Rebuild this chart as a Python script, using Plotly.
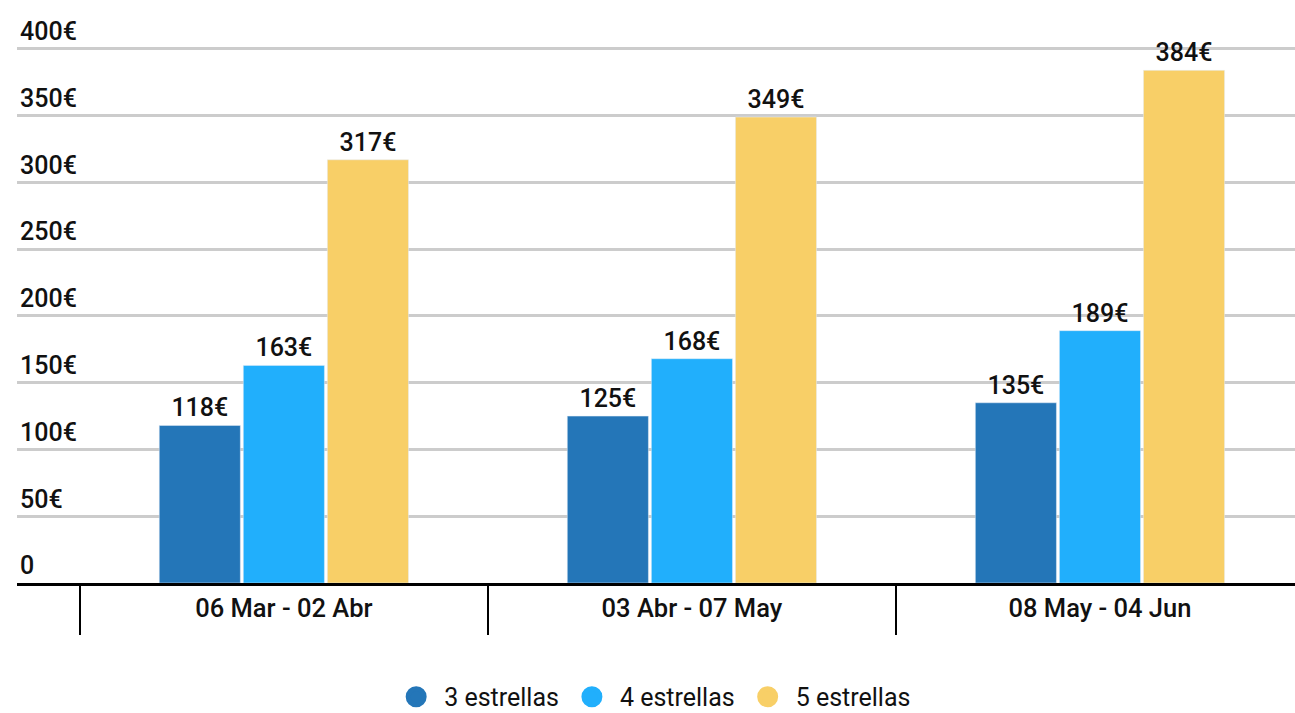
import plotly.graph_objects as go

categories = ["06 Mar - 02 Abr", "03 Abr - 07 May", "08 May - 04 Jun"]
series_names = ["3 estrellas", "4 estrellas", "5 estrellas"]
values_3 = [118, 125, 135]
values_4 = [163, 168, 189]
values_5 = [317, 349, 384]
colors = ["#2476b8", "#21affc", "#f8cf67"]
y_tickvals = [0, 50, 100, 150, 200, 250, 300, 350, 400]
y_ticktext = ["0", "50€", "100€", "150€", "200€", "250€", "300€", "350€", "400€"]

FONT = "Roboto"
fig = go.Figure()
for name, vals, col in zip(series_names, [values_3, values_4, values_5], colors):
    fig.add_trace(go.Bar(
        x=categories, y=vals, name=name, marker_color=col, showlegend=False,
        text=[f"{v}€" for v in vals], textposition="outside", cliponaxis=False,
        textfont=dict(family=FONT, size=25, color="#111111", weight=500),
    ))
    fig.add_trace(go.Scatter(
        x=[None], y=[None], mode="markers", name=name,
        marker=dict(color=col, size=16, symbol="circle", line=dict(color=col, width=5)),
    ))

fig.update_layout(
    width=1295, height=713,
    margin=dict(l=17, r=0, t=16, b=130, autoexpand=False),
    plot_bgcolor="white", paper_bgcolor="white",
    barmode="group", bargap=0.382, bargroupgap=0.035,
    font=dict(family=FONT, color="#111111"),
    legend=dict(orientation="h", x=0.497, xanchor="center", y=-0.201, yanchor="middle",
                font=dict(family=FONT, size=25, color="#111111"), itemsizing="trace",
                itemwidth=46),
)
fig.update_xaxes(
    type="category", range=[-0.654, 2.478], automargin=False,
    showline=True, linecolor="black", linewidth=3,
    ticks="outside", tickson="boundaries", ticklen=49, tickwidth=2, tickcolor="black",
    tickfont=dict(family=FONT, size=25.5, color="#111111", weight=500),
    showgrid=False,
)
fig.update_yaxes(
    range=[0, 424.7], tickvals=y_tickvals, ticktext=y_ticktext, automargin=False,
    ticklabelposition="inside top", showgrid=True, gridcolor="#cccccc", gridwidth=2.5,
    zeroline=False, showline=False,
    tickfont=dict(family=FONT, size=25, color="#111111", weight=500),
)
fig.write_html("out.html", config={"displayModeBar": False},
               post_script="document.body.style.margin='0';")
